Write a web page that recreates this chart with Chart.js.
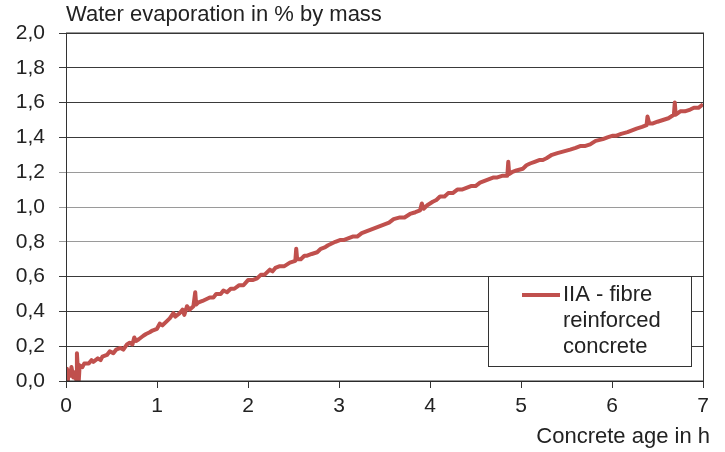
<!DOCTYPE html>
<html>
<head>
<meta charset="utf-8">
<script src="https://cdn.jsdelivr.net/npm/chart.js@4.4.0/dist/chart.umd.min.js"></script>
<style>
    html, body { margin: 0; padding: 0; background: #fff; }
    #wrap { width: 725px; height: 452px; }
</style>
</head>
<body>
<div id="wrap"><canvas id="myChart" width="725" height="452"></canvas></div>
<script>
// data ===============================================================
const timeH = [
    0, 0.01, 0.02, 0.03, 0.05, 0.06, 0.08, 0.1, 0.11, 0.12,
    0.13, 0.14, 0.15, 0.18, 0.2, 0.25, 0.28, 0.3, 0.35, 0.38,
    0.4, 0.45, 0.48, 0.52, 0.55, 0.6, 0.63, 0.67, 0.7, 0.73,
    0.75, 0.77, 0.8, 0.85, 0.88, 0.92, 0.95, 1.0, 1.03, 1.06,
    1.1, 1.14, 1.18, 1.2, 1.25, 1.28, 1.3, 1.33, 1.36, 1.4,
    1.42, 1.43, 1.45, 1.5, 1.54, 1.58, 1.62, 1.65, 1.7, 1.73,
    1.77, 1.81, 1.85, 1.9, 1.95, 2.0, 2.05, 2.1, 2.14, 2.18,
    2.24, 2.27, 2.3, 2.35, 2.4, 2.46, 2.52, 2.53, 2.54, 2.58,
    2.62, 2.65, 2.7, 2.76, 2.8, 2.85, 2.88, 2.92, 2.96, 3.01,
    3.05, 3.1, 3.15, 3.2, 3.25, 3.3, 3.35, 3.4, 3.45, 3.5,
    3.55, 3.6, 3.67, 3.72, 3.78, 3.84, 3.89, 3.91, 3.93, 3.97,
    4.03, 4.07, 4.11, 4.16, 4.2, 4.25, 4.3, 4.35, 4.4, 4.45,
    4.5, 4.55, 4.6, 4.65, 4.7, 4.74, 4.8, 4.85, 4.86, 4.87,
    4.9, 4.95, 5.02, 5.06, 5.1, 5.15, 5.2, 5.24, 5.28, 5.34,
    5.4, 5.47, 5.54, 5.6, 5.65, 5.7, 5.76, 5.82, 5.9, 5.95,
    6.01, 6.05, 6.1, 6.17, 6.22, 6.27, 6.33, 6.38, 6.39, 6.41,
    6.45, 6.5, 6.56, 6.62, 6.68, 6.69, 6.7, 6.75, 6.8, 6.86,
    6.9, 6.95, 7.0];
const evaporation = [
    0.07, 0.03, 0.00, 0.06, 0.03, 0.08, 0.02, 0.05, 0.01, 0.16,
    0.07, 0.00, 0.09, 0.08, 0.10, 0.10, 0.12, 0.11, 0.13, 0.12,
    0.14, 0.15, 0.17, 0.16, 0.18, 0.19, 0.18, 0.21, 0.22, 0.21,
    0.25, 0.23, 0.24, 0.26, 0.27, 0.28, 0.29, 0.30, 0.33, 0.32,
    0.34, 0.36, 0.39, 0.37, 0.39, 0.41, 0.38, 0.43, 0.41, 0.43,
    0.51, 0.44, 0.45, 0.46, 0.47, 0.48, 0.48, 0.50, 0.50, 0.52,
    0.51, 0.53, 0.53, 0.55, 0.55, 0.58, 0.58, 0.59, 0.61, 0.61,
    0.64, 0.63, 0.65, 0.66, 0.66, 0.68, 0.69, 0.76, 0.70, 0.70,
    0.72, 0.72, 0.73, 0.74, 0.76, 0.77, 0.78, 0.79, 0.80, 0.81,
    0.81, 0.82, 0.83, 0.83, 0.85, 0.86, 0.87, 0.88, 0.89, 0.90,
    0.91, 0.93, 0.94, 0.94, 0.96, 0.97, 0.98, 1.02, 0.99, 1.01,
    1.03, 1.04, 1.06, 1.06, 1.08, 1.08, 1.10, 1.10, 1.11, 1.12,
    1.12, 1.14, 1.15, 1.16, 1.17, 1.17, 1.18, 1.18, 1.26, 1.19,
    1.20, 1.21, 1.22, 1.24, 1.25, 1.26, 1.27, 1.27, 1.28, 1.30,
    1.31, 1.32, 1.33, 1.34, 1.35, 1.35, 1.36, 1.38, 1.39, 1.40,
    1.41, 1.41, 1.42, 1.43, 1.44, 1.45, 1.46, 1.47, 1.52, 1.48,
    1.48, 1.49, 1.50, 1.51, 1.53, 1.60, 1.53, 1.55, 1.55, 1.56,
    1.57, 1.57, 1.59];
const seriesName = "IIA - fibre reinforced concrete";
const legendLines = ["IIA - fibre", "reinforced", "concrete"];
const yTitle = "Water evaporation in % by mass";
const xTitle = "Concrete age in h";
const lightGrid = [0.8, 1.0, 1.2];

const FONT = "'Liberation Sans', Arial, sans-serif";
const RED = "#c0504d";
const INK = "#222";

// plugins ===============================================================
function chartBorder(_width, _color) {
    return {
        id: 'chartAreaBorder',
        afterDatasetsDraw(chart) {
            const { ctx, chartArea: { left, top, width, height } } = chart;
            ctx.save();
            ctx.strokeStyle = _color;
            ctx.lineWidth = _width;
            ctx.strokeRect(left + 0.5, top, width, height);
            ctx.restore();
        }
    };
}
function axisTexts(topText, bottomText) {
    return {
        id: 'axisTexts',
        afterDraw(chart) {
            const ctx = chart.ctx;
            ctx.save();
            ctx.font = "22px " + FONT;
            ctx.fillStyle = INK;
            ctx.textBaseline = "middle";
            ctx.textAlign = "left";
            ctx.fillText(topText, chart.chartArea.left, 15);
            ctx.textAlign = "right";
            ctx.fillText(bottomText, chart.chartArea.right + 7, 437);
            ctx.restore();
        }
    };
}
function boxLegend(lines) {
    return {
        id: 'boxLegend',
        afterDraw(chart) {
            const ctx = chart.ctx;
            // box sits inside the plot, bottom right
            const bx = 488, by = 276, bw = 203, bh = 90;
            ctx.save();
            ctx.fillStyle = "#fff";
            ctx.fillRect(bx, by, bw, bh);
            ctx.strokeStyle = "#333";
            ctx.lineWidth = 1;
            ctx.strokeRect(bx + 0.5, by + 0.5, bw, bh);
            ctx.strokeStyle = RED;
            ctx.lineWidth = 4;
            ctx.beginPath();
            ctx.moveTo(bx + 34, by + 19);
            ctx.lineTo(bx + 72, by + 19);
            ctx.stroke();
            ctx.font = "22px " + FONT;
            ctx.fillStyle = INK;
            ctx.textBaseline = "middle";
            for (let i = 0; i < lines.length; i++) {
                ctx.fillText(lines[i], bx + 75, by + 19 + i * 26);
            }
            ctx.restore();
        }
    };
}

// chart ===============================================================
function plot_line() {
    let ctx = document.getElementById("myChart");
    let points = timeH.map((t, i) => ({ x: t, y: evaporation[i] }));
    let data_ev = {
        label: seriesName,
        data: points,
        borderColor: RED,
        borderWidth: 4,
        borderJoinStyle: "round",
        fill: false,
        pointRadius: 0,
        tension: 0,
    };
    let options = {
        responsive: false,
        animation: false,
        layout: { padding: { left: 0, right: 22, top: 33, bottom: 6 } },
        plugins: {
            legend: { display: false },
            tooltip: { enabled: false },
        },
        scales: {
            x: {
                type: "linear",
                min: 0,
                max: 7,
                ticks: { stepSize: 1, padding: 6, color: INK, font: { size: 21, family: FONT } },
                grid: { drawOnChartArea: false, tickLength: 7, color: "#333" },
                border: { color: INK, width: 1 },
                afterFit: (s) => { s.height = 65; },
            },
            y: {
                min: 0,
                max: 2,
                ticks: {
                    stepSize: 0.2, padding: 14, color: INK, font: { size: 21, family: FONT },
                    callback: (v) => v.toFixed(1).replace(".", ","),
                },
                grid: {
                    tickLength: 7,
                    lineWidth: 1,
                    color: (c) => {
                        let v = c.tick ? Math.round(c.tick.value * 10) / 10 : 0;
                        return lightGrid.includes(v) ? "#9a9a9a" : "#3a3a3a";
                    },
                },
                border: { color: INK, width: 1 },
                afterFit: (s) => { s.width = 66; },
            },
        },
    };
    new Chart(ctx, {
        type: "line",
        data: { datasets: [data_ev] },
        options: options,
        plugins: [chartBorder(1, "#333"), axisTexts(yTitle, xTitle), boxLegend(legendLines)]
    });
}
plot_line();
</script>
</body>
</html>
